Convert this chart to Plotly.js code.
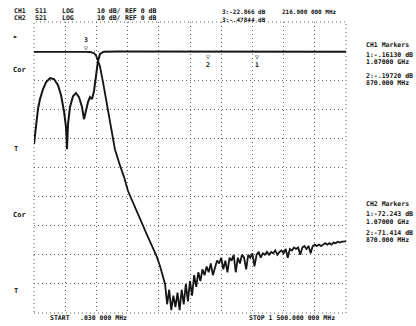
<!DOCTYPE html>
<html><head><meta charset="utf-8">
<script src="https://cdn.plot.ly/plotly-3.0.1.min.js"></script>
<style>html,body{margin:0;padding:0;background:#fff}#chart{width:416px;height:326px}</style>
</head><body><div id="chart"></div>
<script>
// ---- data (frequency in MHz, level in dB) ----
const s11Freq = [0.03, 9.6, 19.2, 28.8, 43.3, 57.7, 76.9, 96.2, 115.4, 129.8, 144.2, 153.8, 158.7, 163.5, 173.1, 187.5, 201.9, 216.3, 230.8, 240.4, 250, 259.6, 269.2, 278.8, 288.5, 298.1, 307.7, 317.3, 336.5, 400, 600, 800, 1000, 1200, 1500];
const s11dB   = [-32, -25.1, -19.9, -16.5, -13.1, -10.7, -9.3, -9.6, -11.7, -15.1, -20.6, -26.1, -33.7, -25.1, -19.2, -15.5, -14.4, -15.8, -19.2, -23.4, -20.6, -17.5, -15.8, -16.5, -13.7, -7.9, -3.4, -1.0, -0.2, -0.15, -0.2, -0.15, -0.2, -0.2, -0.2];

const s21Freq = [0.03, 50, 100, 150, 200, 250, 275, 290, 298, 307.7, 317, 332, 346, 365, 389, 413, 433, 452, 476, 500, 524, 548, 572, 591, 606, 620,
  630, 640, 650, 660, 670, 680, 690, 700, 710, 720, 730, 740, 750, 760, 770, 780, 790, 800, 810, 820, 830, 840, 850, 860, 870, 880, 890, 900,
  910, 920, 930, 940, 950, 960, 970, 980, 990, 1000, 1010, 1020, 1030, 1040, 1050, 1060, 1070, 1080, 1090, 1100, 1110, 1120, 1130, 1140, 1150,
  1160, 1170, 1180, 1190, 1200, 1210, 1220, 1230, 1240, 1250, 1260, 1270, 1280, 1290, 1300, 1310, 1320, 1330, 1340, 1350, 1360, 1370, 1380,
  1390, 1400, 1410, 1420, 1430, 1440, 1450, 1460, 1470, 1480, 1490, 1500];
const s21dB = [-0.3, -0.25, -0.3, -0.2, -0.3, -0.3, -0.4, -0.8, -1.5, -3.8, -5.2, -10.8, -16.5, -24, -33.7, -39.2, -43.3, -48.1, -52.2, -56, -60.1, -63.9, -67.7, -70.8, -73.9, -77.3,
  -80, -87, -82, -89, -84, -88, -83, -89, -82, -87, -80, -86, -79, -84, -77, -81, -76, -79, -75, -77, -74, -76, -73, -77, -74, -72, -73, -71,
  -75, -72, -76, -71, -72, -70, -76, -71, -73, -70, -71, -75, -70, -71, -69.5, -74, -70, -69, -71, -69.5, -70, -69, -70, -69, -69.5,
  -68.5, -70, -69, -68.5, -69.5, -68, -71, -68, -68.5, -67.5, -68, -67.5, -70, -67.5, -67, -68, -67, -69.5, -67, -66.5, -67, -66.5, -67,
  -66.5, -66, -66.5, -66, -66.5, -65.8, -66, -65.5, -65.8, -65.5, -65.5, -65.3];

// marker positions
const mkFreq  = [1072, 836];
const mkDb    = [-0.2, -0.2];
const mkLabel = ['1', '2'];
const mk3Freq = [250];
const mk3Db   = [-0.3];
const mk3Label = ['3'];

// ---- layout helpers ----
const L = 34, R = 346, T = 22, B = 313;
const px = (x, y) => ({xref: 'paper', yref: 'paper', x: (x - L) / (R - L), y: (B - y) / (B - T)});
const FONT = 'DejaVu Sans Mono';
function txt(s, x, y, size) {
  return Object.assign(px(x, y), {text: s, showarrow: false, xanchor: 'left', yanchor: 'middle',
    font: {family: FONT, size: size || 6.5, color: '#111', weight: 'bold'}});
}

const annotations = [
  txt('CH1', 12, 11), txt('CH2', 12, 18),
  txt('S11', 33, 11), txt('S21', 33, 18),
  txt('LOG', 60, 11), txt('LOG', 60, 18),
  txt('10 dB/', 95, 11), txt('10 dB/', 95, 18),
  txt('REF 0 dB', 123, 11), txt('REF 0 dB', 123, 18),
  txt('3:-22.866 dB', 220, 11.5, 6), txt('3:-.47844 dB', 220, 19, 6),
  txt('216.900 000 MHz', 280, 12, 6),
  txt('CH1 Markers', 364, 45, 6.5),
  txt('1:-.16130 dB', 364, 55, 6.5), txt('1.07000 GHz', 364, 62.5, 6.5),
  txt('2:-.19720 dB', 364, 75.5, 6.5), txt('870.000 MHz', 364, 83, 6.5),
  txt('CH2 Markers', 364, 204, 6.5),
  txt('1:-72.243 dB', 364, 214, 6.5), txt('1.07000 GHz', 364, 221.5, 6.5),
  txt('2:-71.414 dB', 364, 232.5, 6.5), txt('870.000 MHz', 364, 240, 6.5),
  txt('▸', 11, 36, 8),
  txt('Cor', 11, 70, 7), txt('T', 12, 149, 7),
  txt('Cor', 11, 215, 7), txt('T', 12, 291, 7),
  txt('START', 48, 318), txt('.030 000 MHz', 78, 318),
  txt('STOP 1 500.000 000 MHz', 247, 318)
];
mkFreq.forEach((f, i) => annotations.push({xref: 'x', yref: 'y', x: f, y: mkDb[i], text: '▽<br>' + mkLabel[i],
  showarrow: false, yanchor: 'top', yshift: 1, font: {family: FONT, size: 6.5, color: '#111', weight: 'bold'}}));
mk3Freq.forEach((f, i) => annotations.push({xref: 'x', yref: 'y', x: f, y: mk3Db[i], text: mk3Label[i] + '<br>▽',
  showarrow: false, yanchor: 'bottom', yshift: -2, font: {family: FONT, size: 6.5, color: '#111', weight: 'bold'}}));

const traces = [
  {x: s11Freq, y: s11dB, mode: 'lines', line: {color: '#151515', width: 2}, hoverinfo: 'skip'},
  {x: s21Freq, y: s21dB, mode: 'lines', line: {color: '#151515', width: 1.8}, hoverinfo: 'skip'}
];

const axisBase = {showticklabels: false, ticks: '', zeroline: false, showline: false,
  showgrid: true, gridcolor: '#666', gridwidth: 1, griddash: '1px,3px', fixedrange: true};

const layout = {
  width: 416, height: 326,
  margin: {l: L, r: 416 - R, t: T, b: 326 - B, pad: 0},
  paper_bgcolor: '#fff', plot_bgcolor: '#fff', showlegend: false,
  xaxis: Object.assign({}, axisBase, {range: [0, 1500], tick0: 0, dtick: 150}),
  yaxis: Object.assign({}, axisBase, {range: [-90, 10], tick0: 0, dtick: 10}),
  annotations: annotations,
  shapes: [{type: 'rect', xref: 'paper', yref: 'paper', x0: 0, x1: 1, y0: 0, y1: 1,
    line: {color: '#666', width: 1, dash: '1px,3px'}, layer: 'below'}]
};

Plotly.newPlot('chart', traces, layout, {staticPlot: true, displayModeBar: false});
</script></body></html>
